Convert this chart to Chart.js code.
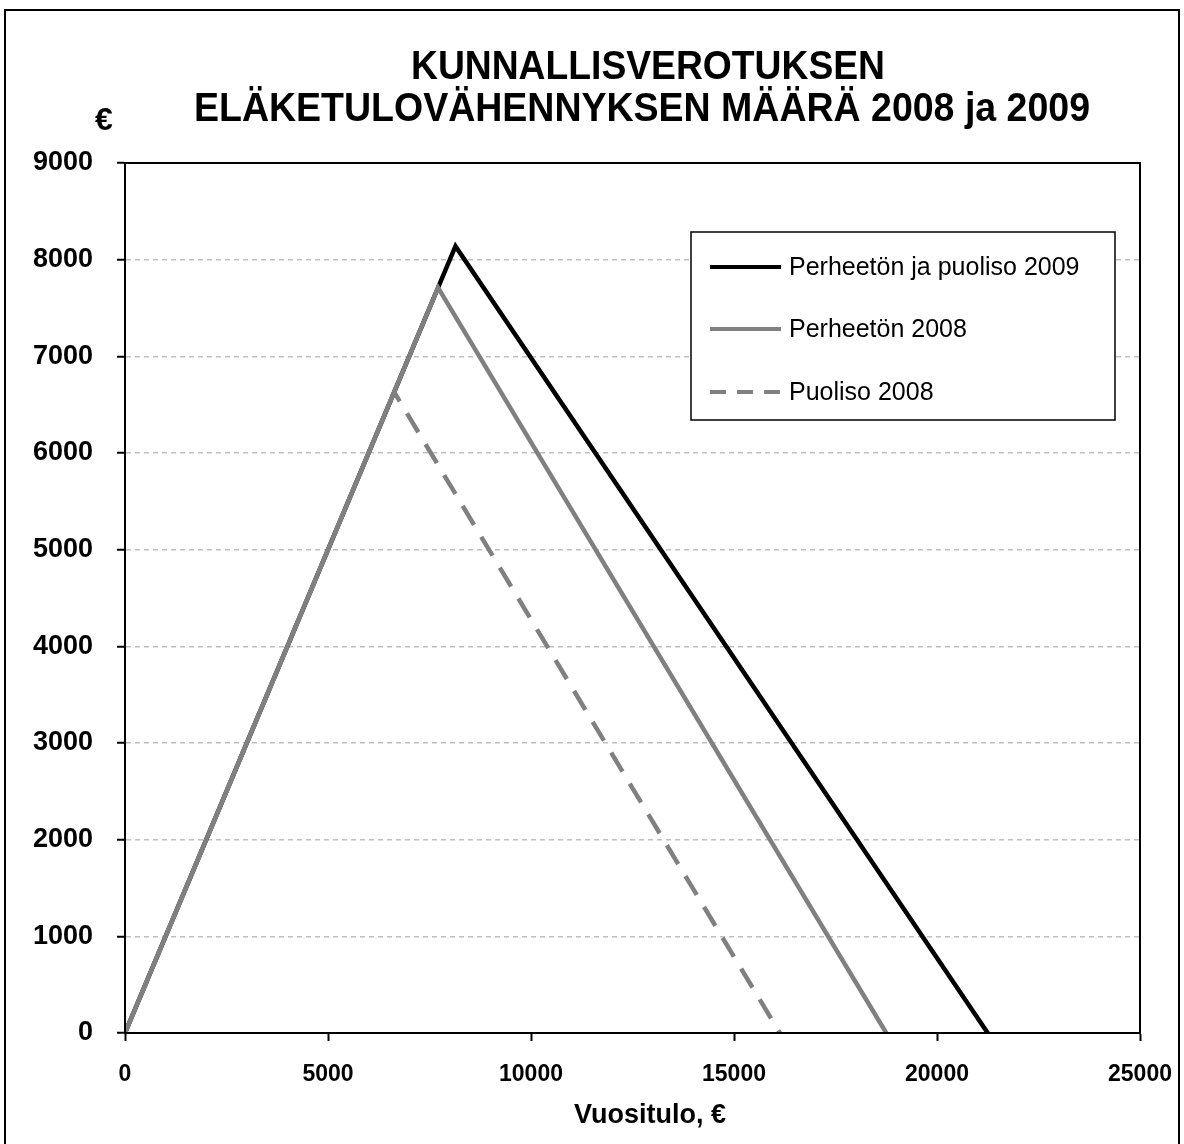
<!DOCTYPE html>
<html>
<head>
<meta charset="utf-8">
<script src="https://cdn.jsdelivr.net/npm/chart.js@4"></script>
<style>
  html, body { margin: 0; padding: 0; background: #fff; }
  #wrap { width: 1184px; height: 1144px; }
</style>
</head>
<body>
<div id="wrap"><canvas id="Chart" width="1184" height="1144"></canvas></div>
<script>
// series: [vuositulo, vähennys] corner points
var perheetonPuoliso2009 = [[0, 0], [8140, 8140], [21250, 0]];
var perheeton2008 = [[0, 0], [7710, 7710], [18750, 0]];
var puoliso2008 = [[0, 0], [6630, 6630], [16130, 0]];
var seriesNames = ['Perheetön ja puoliso 2009', 'Perheetön 2008', 'Puoliso 2008'];
var titleLines = ['KUNNALLISVEROTUKSEN', 'ELÄKETULOVÄHENNYKSEN MÄÄRÄ 2008 ja 2009'];
var yUnit = '€';
var xTitle = 'Vuositulo, €';
var xTicks = [0, 5000, 10000, 15000, 20000, 25000];
var yTicks = [0, 1000, 2000, 3000, 4000, 5000, 6000, 7000, 8000, 9000];

function toPoints(arr) {
  return arr.map(function (p) { return { x: p[0], y: p[1] }; });
}

var FONT = "'Liberation Sans', Arial, sans-serif";

var decorPlugin = {
  id: 'decor',
  beforeDraw: function (chart) {
    var ctx = chart.ctx;
    ctx.save();
    ctx.fillStyle = '#fff';
    ctx.fillRect(0, 0, chart.width, chart.height);
    ctx.strokeStyle = '#000';
    ctx.lineWidth = 2;
    ctx.strokeRect(5, 10, 1174, 1150);
    ctx.restore();
  },
  afterDatasetsDraw: function (chart) {
    var ctx = chart.ctx;
    var a = chart.chartArea;
    ctx.save();
    // plot frame
    ctx.strokeStyle = '#000';
    ctx.lineWidth = 2;
    ctx.strokeRect(a.left, a.top, a.right - a.left, a.bottom - a.top);

    // title
    ctx.fillStyle = '#000';
    ctx.textAlign = 'center';
    ctx.textBaseline = 'alphabetic';
    ctx.font = 'bold 41px ' + FONT;
    ctx.fillText(titleLines[0], 648, 79, 474);
    ctx.fillText(titleLines[1], 642, 121, 896);

    // unit label
    ctx.font = 'bold 32px ' + FONT;
    ctx.fillText(yUnit, 104, 130);

    // x axis title
    ctx.font = 'bold 27px ' + FONT;
    ctx.fillText(xTitle, 650, 1123);

    // legend box
    var bx = 691, by = 232, bw = 424, bh = 188;
    ctx.fillStyle = '#fff';
    ctx.fillRect(bx, by, bw, bh);
    ctx.strokeStyle = '#000';
    ctx.lineWidth = 1.5;
    ctx.strokeRect(bx, by, bw, bh);
    var rows = [267, 329, 392];
    chart.data.datasets.forEach(function (ds, i) {
      var y = rows[i];
      ctx.beginPath();
      ctx.strokeStyle = ds.borderColor;
      ctx.lineWidth = 4;
      ctx.lineCap = 'butt';
      ctx.setLineDash(ds.borderDash && ds.borderDash.length ? [16, 11] : []);
      ctx.moveTo(710, y);
      ctx.lineTo(781, y);
      ctx.stroke();
      ctx.setLineDash([]);
      ctx.fillStyle = '#000';
      ctx.textAlign = 'left';
      ctx.textBaseline = 'middle';
      ctx.font = '25px ' + FONT;
      ctx.fillText(ds.label, 789, y + 1, 308);
    });
    ctx.restore();
  }
};

var ctx = document.getElementById('Chart').getContext('2d');
var myChart = new Chart(ctx, {
  type: 'scatter',
  data: {
    datasets: [{
      label: seriesNames[0],
      data: toPoints(perheetonPuoliso2009),
      showLine: true,
      borderColor: '#000000',
      borderWidth: 4.5,
      pointRadius: 0,
      order: 3
    }, {
      label: seriesNames[1],
      data: toPoints(perheeton2008),
      showLine: true,
      borderColor: '#808080',
      borderWidth: 4.5,
      pointRadius: 0,
      order: 2
    }, {
      label: seriesNames[2],
      data: toPoints(puoliso2008),
      showLine: true,
      borderColor: '#808080',
      borderWidth: 4.5,
      borderDash: [22, 14],
      pointRadius: 0,
      order: 1
    }]
  },
  options: {
    responsive: false,
    animation: false,
    layout: { padding: { left: 0, top: 163, right: 44, bottom: 0 } },
    plugins: {
      legend: { display: false },
      title: { display: false },
      tooltip: { enabled: false }
    },
    scales: {
      x: {
        type: 'linear',
        position: 'bottom',
        min: 0,
        max: 25000,
        afterBuildTicks: function (axis) {
          axis.ticks = xTicks.map(function (v) { return { value: v }; });
        },
        afterFit: function (axis) {
          axis.height = 111;
          axis.paddingLeft = 0;
          axis.paddingRight = 0;
        },
        grid: {
          drawOnChartArea: false,
          drawTicks: true,
          tickLength: 8,
          tickColor: '#000',
          tickWidth: 2
        },
        border: { color: '#000', width: 2 },
        ticks: {
          color: '#000',
          padding: 20,
          maxRotation: 0,
          font: { family: FONT, size: 23, weight: 'bold' },
          callback: function (v) { return String(v); }
        }
      },
      y: {
        min: 0,
        max: 9000,
        afterBuildTicks: function (axis) {
          axis.ticks = yTicks.map(function (v) { return { value: v }; });
        },
        afterFit: function (axis) {
          axis.width = 125;
          axis.paddingTop = 0;
          axis.paddingBottom = 0;
        },
        grid: {
          color: '#c0c0c0',
          lineWidth: 1.5,
          drawTicks: true,
          tickLength: 8,
          tickColor: '#000',
          tickWidth: 2,
          tickBorderDash: [0, 0]
        },
        border: { color: '#000', width: 2, dash: [5, 4] },
        ticks: {
          color: '#000',
          padding: 24,
          font: { family: FONT, size: 27, weight: 'bold' },
          callback: function (v) { return String(v); }
        }
      }
    }
  },
  plugins: [decorPlugin]
});
</script>
</body>
</html>
